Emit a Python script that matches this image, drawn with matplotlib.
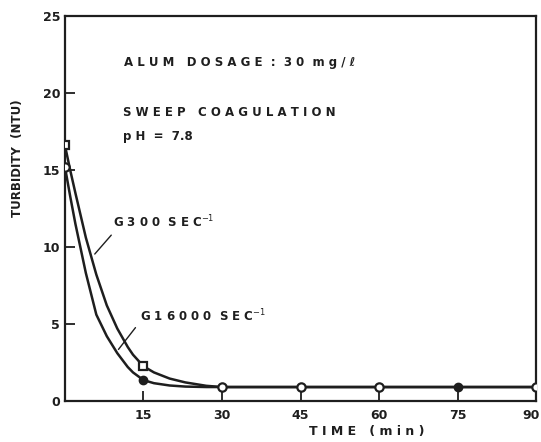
import matplotlib
matplotlib.use("Agg")
import matplotlib.pyplot as plt
import matplotlib.transforms as mtransforms

# curve readings (min, NTU) taken off the scanned figure
t_g300 = [0, 1, 2, 4, 6, 8, 10, 12, 13, 15, 17, 20, 23, 27, 30, 45, 60, 75, 90]
v_g300 = [16.6, 15.0, 13.5, 10.6, 8.2, 6.2, 4.7, 3.5, 3.0, 2.25, 1.85, 1.45,
          1.2, 0.98, 0.9, 0.9, 0.9, 0.9, 0.9]

t_g16000 = [0, 1, 2, 4, 6, 8, 10, 12, 13, 15, 17, 20, 23, 27, 30, 45, 60, 75, 90]
v_g16000 = [15.2, 13.3, 11.5, 8.3, 5.6, 4.2, 3.1, 2.2, 1.85, 1.35, 1.15, 1.0,
            0.93, 0.9, 0.9, 0.9, 0.9, 0.9, 0.9]

# measured points shown with markers
sq_t = [0, 15]
sq_v = [16.6, 2.25]
open_t = [0, 30, 45, 60, 90]
open_v = [15.2, 0.9, 0.9, 0.9, 0.9]
filled_t = [15, 75]
filled_v = [1.35, 0.9]

x_ticks = [15, 30, 45, 60, 75, 90]
y_ticks = [0, 5, 10, 15, 20, 25]

ink = "#1e1e1e"
fig = plt.figure(figsize=(5.41, 4.42), dpi=100)
ax = fig.add_axes([0.120, 0.093, 0.871, 0.871])

ax.plot(t_g300, v_g300, color=ink, lw=1.8, zorder=2)
ax.plot(t_g16000, v_g16000, color=ink, lw=1.8, zorder=2)
ax.plot(sq_t, sq_v, ls="none", marker="s", ms=6, mfc="white", mec=ink, mew=1.6, zorder=3)
ax.plot(open_t, open_v, ls="none", marker="o", ms=6, mfc="white", mec=ink, mew=1.6, zorder=3)
ax.plot(filled_t, filled_v, ls="none", marker="o", ms=6, mfc=ink, mec=ink, zorder=3)

ax.set_xlim(0, 90)
ax.set_ylim(0, 25)
ax.set_xticks(x_ticks)
ax.set_yticks(y_ticks)
ax.tick_params(direction="in", length=7, width=1.3, labelsize=9, colors=ink)
ax.tick_params(axis="x", pad=6)
for lab in ax.get_xticklabels() + ax.get_yticklabels():
    lab.set_fontweight("bold")
# nudge the last x label so it stays inside the canvas
last = ax.get_xticklabels()[-1]
last.set_transform(last.get_transform() + mtransforms.ScaledTranslation(-5 / 100, 0, fig.dpi_scale_trans))
for s in ax.spines.values():
    s.set_linewidth(1.6)
    s.set_color(ink)

ax.set_ylabel("TURBIDITY  (NTU)", fontsize=8.5, fontweight="bold", color=ink, va="center")
ax.yaxis.set_label_coords(-0.10, 0.63)
ax.set_xlabel("T I M E   ( m i n )", fontsize=9, fontweight="bold", color=ink, va="center")
ax.xaxis.set_label_coords(0.64, -0.08)

kw = dict(fontsize=8.5, fontweight="bold", color=ink, va="center")
ax.text(11.2, 22.0, "A L U M   D O S A G E  :  3 0  m g / ℓ", **kw)
ax.text(11.1, 18.75, "S W E E P   C O A G U L A T I O N", **kw)
ax.text(11.1, 17.15, "p H  =  7.8", **kw)

ax.text(9.2, 11.6, "G 3 0 0  S E C$^{-1}$", **kw)
ax.annotate("", xy=(5.35, 9.4), xytext=(9.2, 10.9),
            arrowprops=dict(arrowstyle="-", color=ink, lw=1.0))
ax.text(14.3, 5.5, "G 1 6 0 0 0  S E C$^{-1}$", **kw)
ax.annotate("", xy=(9.9, 3.2), xytext=(13.8, 4.9),
            arrowprops=dict(arrowstyle="-", color=ink, lw=1.0))

fig.savefig("out.png", dpi=100)
